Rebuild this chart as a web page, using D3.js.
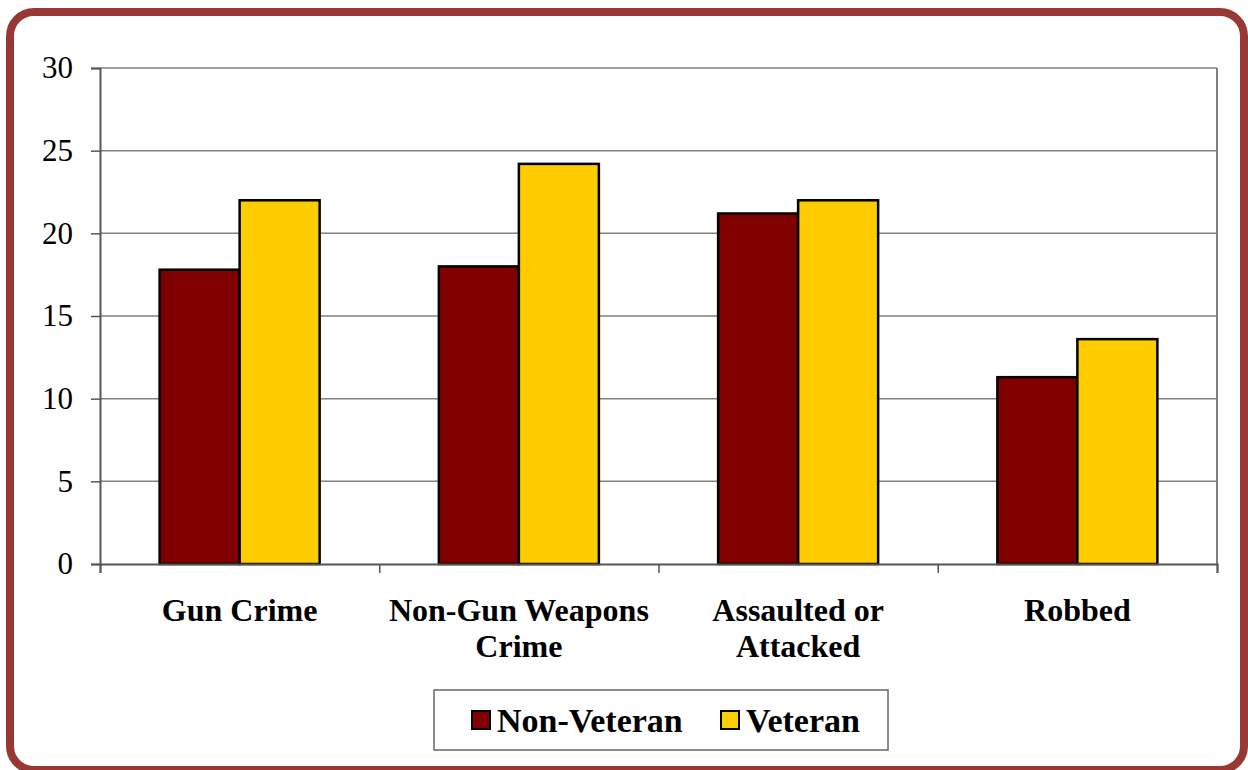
<!DOCTYPE html>
<html><head><meta charset="utf-8">
<script src="https://cdn.jsdelivr.net/npm/d3@7"></script>
<style>html,body{margin:0;padding:0;background:#fff;}svg{display:block;}</style>
</head><body>
<svg id="c" width="1248" height="770"></svg>
<script>
const categories = [["Gun Crime"], ["Non-Gun Weapons", "Crime"], ["Assaulted or", "Attacked"], ["Robbed"]];
const seriesNames = ["Non-Veteran", "Veteran"];
const nonVeteran = [17.8, 18.0, 21.2, 11.3];
const veteran = [22.0, 24.2, 22.0, 13.6];
const yTicks = [0, 5, 10, 15, 20, 25, 30];
const colors = ["#800000", "#FFCC00"];

const svg = d3.select("#c");
const font = "'Liberation Serif','Times New Roman',serif";

// frame
svg.append("rect").attr("x", 10).attr("y", 12).attr("width", 1234).attr("height", 758)
  .attr("rx", 24).attr("ry", 24).attr("fill", "#fff").attr("stroke", "#993735").attr("stroke-width", 8);

const L = 100, R = 1217, T = 68, B = 564;
const y = d3.scaleLinear().domain([0, 30]).range([B, T]);
const keys = categories.map((c, i) => i);
const x0 = d3.scaleBand().domain(keys).range([L, R]).paddingInner(0.427).paddingOuter(0.2135);
const x1 = d3.scaleBand().domain([0, 1]).range([0, x0.bandwidth()]);

// gridlines
svg.append("g").selectAll("line").data(yTicks.filter(t => t > 0)).join("line")
  .attr("x1", L).attr("x2", R).attr("y1", d => y(d)).attr("y2", d => y(d))
  .attr("stroke", "#808080").attr("stroke-width", 1.5);
// right border
svg.append("line").attr("x1", R).attr("x2", R).attr("y1", T).attr("y2", B)
  .attr("stroke", "#808080").attr("stroke-width", 2);

// bars
const data = keys.map(i => [nonVeteran[i], veteran[i]]);
const g = svg.append("g").selectAll("g").data(data).join("g")
  .attr("transform", (d, i) => `translate(${x0(i)},0)`);
g.selectAll("rect").data(d => d.map((v, j) => ({v, j}))).join("rect")
  .attr("x", d => x1(d.j)).attr("width", x1.bandwidth())
  .attr("y", d => y(d.v)).attr("height", d => B - y(d.v))
  .attr("fill", d => colors[d.j]).attr("stroke", "#000").attr("stroke-width", 2.5);

// y axis
const yAxis = d3.axisLeft(y).tickValues(yTicks).tickSize(9).tickPadding(18).tickFormat(d3.format("d"));
const ya = svg.append("g").attr("transform", `translate(${L},0)`).call(yAxis);
ya.select(".domain").attr("stroke", "#555").attr("stroke-width", 2);
ya.selectAll(".tick line").attr("stroke", "#555").attr("stroke-width", 1.5);
ya.selectAll("text").attr("font-family", font).attr("font-size", 31).attr("fill", "#000");

// x axis
const xb = d3.scaleLinear().domain([0, 4]).range([L, R]);
const xa = svg.append("g").attr("transform", `translate(0,${B})`)
  .call(d3.axisBottom(xb).ticks(4).tickSize(9).tickFormat(""));
xa.select(".domain").attr("stroke", "#555").attr("stroke-width", 2);
xa.selectAll(".tick line").attr("stroke", "#555").attr("stroke-width", 1.5);

// category labels
const lab = svg.append("g").selectAll("text").data(categories).join("text")
  .attr("x", (d, i) => x0(i) + x0.bandwidth() / 2).attr("y", 621)
  .attr("text-anchor", "middle").attr("font-family", font).attr("font-weight", "bold")
  .attr("font-size", 32).attr("fill", "#000");
lab.selectAll("tspan").data(d => d).join("tspan")
  .attr("x", function() { return this.parentNode.getAttribute("x"); })
  .attr("dy", (d, i) => i === 0 ? 0 : 36).text(d => d);

// legend
svg.append("rect").attr("x", 434).attr("y", 690).attr("width", 454).attr("height", 60)
  .attr("fill", "#fff").attr("stroke", "#666").attr("stroke-width", 1.5);
const legX = [472, 721];
seriesNames.forEach((s, i) => {
  svg.append("rect").attr("x", legX[i]).attr("y", 711).attr("width", 18).attr("height", 18)
    .attr("fill", colors[i]).attr("stroke", "#000").attr("stroke-width", 2);
  svg.append("text").attr("x", legX[i] + 25).attr("y", 732).attr("font-family", font)
    .attr("font-weight", "bold").attr("font-size", 34).attr("fill", "#000").text(s);
});
</script>
</body></html>
